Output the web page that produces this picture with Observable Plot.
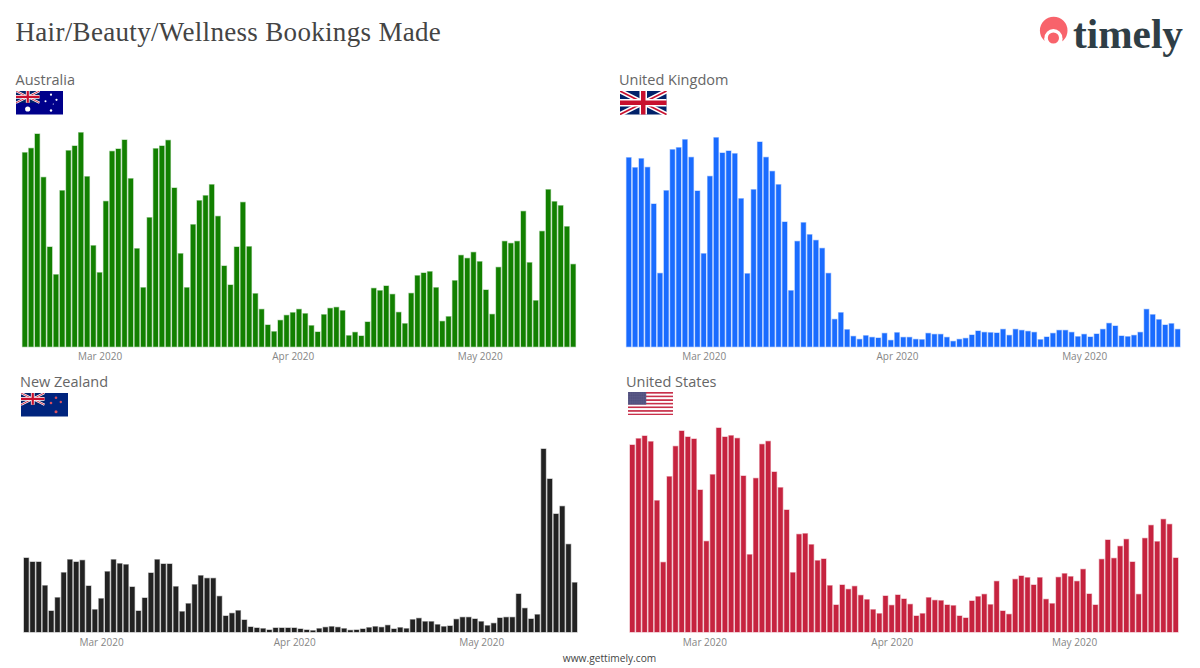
<!DOCTYPE html>
<html>
<head>
<meta charset="utf-8">
<script src="https://cdn.jsdelivr.net/npm/d3@7"></script>
<script src="https://cdn.jsdelivr.net/npm/@observablehq/plot@0.6"></script>
<style>
html,body{margin:0;padding:0;background:#fff;}
#page{position:relative;width:1200px;height:668px;overflow:hidden;}
#title{position:absolute;left:15.5px;top:14px;font:27px/36px "Liberation Serif",serif;color:#444;white-space:nowrap;letter-spacing:.32px;}
.lab{position:absolute;font:14.5px/20px "Open Sans",sans-serif;color:#666;white-space:nowrap;}
.panel{position:absolute;}
.panel svg{display:block;overflow:visible;}
.flag{position:absolute;display:block;}
#foot{position:absolute;left:0;width:1219px;text-align:center;top:651px;font:10.2px/14px "Open Sans",sans-serif;color:#444;}
#logo{position:absolute;left:1030px;top:5px;}
</style>
</head>
<body>
<div id="page">
  <div id="title">Hair/Beauty/Wellness Bookings Made</div>
  <svg id="logo" width="165" height="60" viewBox="1030 5 165 60">
    <circle cx="1053.7" cy="30.5" r="13.8" fill="#f8636b"/>
    <circle cx="1053.4" cy="38" r="9" fill="#fff"/>
    <rect x="1044.4" y="38" width="18" height="8" fill="#fff"/>
    <circle cx="1053.4" cy="38" r="5.6" fill="#f8636b"/>
    <text x="1073" y="48" font-family="Liberation Serif" font-weight="700" font-size="42" fill="#2f3e46" textLength="110" lengthAdjust="spacingAndGlyphs">timely</text>
  </svg>
  <div id="foot">www.gettimely.com</div>
</div>
<script>
const australia = [582,595,638,508,299,216,468,588,602,642,510,303,222,436,586,593,620,504,294,177,387,594,602,619,476,279,177,366,438,453,486,391,242,185,299,433,300,159,112,65,45,79,94,102,112,99,63,44,96,115,118,108,33,43,32,74,175,168,182,157,103,69,160,213,221,225,177,76,90,198,274,265,283,255,170,97,238,316,310,316,406,252,138,346,471,435,423,360,247];
const unitedKingdom = [567,537,564,538,428,220,468,591,597,621,568,467,279,511,627,581,587,579,444,219,471,614,568,526,486,374,168,316,372,336,319,295,220,82,102,51,31,22,33,28,26,40,19,42,28,28,22,21,40,37,37,28,16,22,25,35,47,43,42,41,52,34,52,49,46,43,21,29,40,49,49,43,30,37,29,38,52,70,62,32,30,34,43,112,96,81,65,69,52];
const newZealand = [222,210,210,139,63,103,178,217,210,215,138,67,100,181,217,205,202,135,63,102,177,217,204,204,136,61,85,142,169,161,161,107,48,56,64,36,15,12,10,6,12,12,12,12,9,6,4,10,14,16,14,10,5,6,9,13,16,14,20,9,13,10,37,41,31,31,22,16,18,38,44,44,39,31,19,26,42,44,44,114,71,39,52,549,459,354,377,263,148];
const unitedStates = [561,580,588,571,394,209,466,557,603,585,579,426,272,472,612,585,589,581,468,232,461,563,572,480,433,366,178,293,295,262,214,219,139,81,141,128,137,110,97,67,55,108,80,111,99,83,48,55,103,95,94,81,79,48,42,93,106,113,82,152,63,53,158,168,163,141,163,98,85,164,175,166,152,188,114,81,218,276,221,257,278,210,113,281,320,271,338,323,222];

const days = d3.utcDay.range(new Date(Date.UTC(2020,1,18)), new Date(Date.UTC(2020,4,17))).map(d3.utcFormat("%Y-%m-%d"));
const tickDays = ["2020-03-01","2020-04-01","2020-05-01"];
const tickLabels = ["Mar 2020","Apr 2020","May 2020"];

const unionJack = (w,h) => `
  <rect width="${w}" height="${h}" fill="#012169"/>
  <path d="M0 0L${w} ${h}M${w} 0L0 ${h}" stroke="#fff" stroke-width="${h*0.2}"/>
  <path d="M0 0L${w} ${h}M${w} 0L0 ${h}" stroke="#c8102e" stroke-width="${h*0.07}"/>
  <path d="M${w/2} 0V${h}M0 ${h/2}H${w}" stroke="#fff" stroke-width="${h*0.32}"/>
  <path d="M${w/2} 0V${h}M0 ${h/2}H${w}" stroke="#c8102e" stroke-width="${h*0.19}"/>`;
const star = (x,y,r,c) => `<circle cx="${x}" cy="${y}" r="${r}" fill="${c}"/>`;
const stripes = () => { let s=""; for(let i=0;i<13;i++) s+=`<rect y="${i*23.5/13}" width="45" height="${23.5/13}" fill="${i%2?"#fff":"#c8304a"}"/>`; return s; };
const flagArt = {
  au: `<rect width="47" height="23.5" fill="#00008b"/><g>${unionJack(23.5,11.75)}</g>${star(11.7,18,2.6,"#fff")}${star(35,3.7,1.1,"#fff")}${star(29.5,10.3,1,"#fff")}${star(40.5,8.8,1.1,"#fff")}${star(35,19.5,1.2,"#fff")}${star(37.3,13,.6,"#fff")}`,
  uk: unionJack(46.5,23.5),
  nz: `<rect width="47" height="23.5" fill="#00247d"/><g>${unionJack(23.5,11.75)}</g>${star(35,4.7,1.3,"#d8505e")}${star(30,10,1.3,"#d8505e")}${star(39.8,9,1.2,"#d8505e")}${star(35,18.8,1.5,"#d8505e")}`,
  us: `${stripes()}<rect width="18.2" height="12.6" fill="#3c3b6e"/><rect width="18.2" height="12.6" fill="url(#usdots)"/>`
};

const panels = [
  {name:"Australia", values:australia, color:"#128000", left:0, top:120, inner:226.7, max:680, ml:22.5, mr:24.5, labelX:15.5, labelY:70, flag:"au", fx:16, fy:91, nudge:[0,0,0]},
  {name:"United Kingdom", values:unitedKingdom, color:"#1a6cff", left:600, top:120, inner:226.7, max:680, ml:26.5, mr:20, labelX:619, labelY:70, flag:"uk", fx:619.7, fy:91, nudge:[0,0,0]},
  {name:"New Zealand", values:newZealand, color:"#222222", left:0, top:411.5, inner:220, max:660, ml:24, mr:23, labelX:20, labelY:372, flag:"nz", fx:21, fy:393.3, nudge:[0,0,0]},
  {name:"United States", values:unitedStates, color:"#c6233f", left:600, top:411.5, inner:220, max:660, ml:30, mr:22, labelX:626, labelY:372, flag:"us", fx:627.7, fy:391.7, nudge:[-2,-6,-9]}
];

const page = document.getElementById("page");
for (const p of panels) {
  const table = days.map((day,i) => ({day, value:p.values[i]}));
  const chart = Plot.plot({
    width:600, height:p.inner+24,
    marginTop:0, marginBottom:24, marginLeft:p.ml, marginRight:p.mr,
    style:{background:"transparent", fontFamily:"'Open Sans',sans-serif", fontSize:"10px", overflow:"visible"},
    x:{type:"band", domain:days, paddingInner:0.26, paddingOuter:0, round:false, axis:null},
    y:{domain:[0,p.max], axis:null},
    marks:[
      Plot.barY(table,{x:"day", y:"value", fill:p.color, stroke:p.color, strokeOpacity:0.38, strokeWidth:1.2}),
      ...tickDays.map((t,i)=>Plot.axisX({ticks:[t], tickSize:0, tickPadding:6, tickFormat:()=>tickLabels[i], dx:p.nudge[i], fill:"#858585", label:null}))
    ]
  });
  const d = document.createElement("div");
  d.className="panel";
  d.style.left=p.left+"px"; d.style.top=p.top+"px";
  d.appendChild(chart);
  page.appendChild(d);
  const lab=document.createElement("div");
  lab.className="lab"; lab.textContent=p.name;
  lab.style.left=p.labelX+"px"; lab.style.top=p.labelY+"px";
  page.appendChild(lab);
  const f=document.createElementNS("http://www.w3.org/2000/svg","svg");
  f.setAttribute("class","flag");
  f.setAttribute("width",p.flag==="us"?45:47); f.setAttribute("height",23.5);
  f.style.left=p.fx+"px"; f.style.top=p.fy+"px";
  f.innerHTML=`<defs><pattern id="usdots" width="1.9" height="1.6" patternUnits="userSpaceOnUse"><circle cx=".9" cy=".8" r=".45" fill="#c8c8dc"/></pattern></defs>`+flagArt[p.flag];
  page.appendChild(f);
}
</script>
</body>
</html>
